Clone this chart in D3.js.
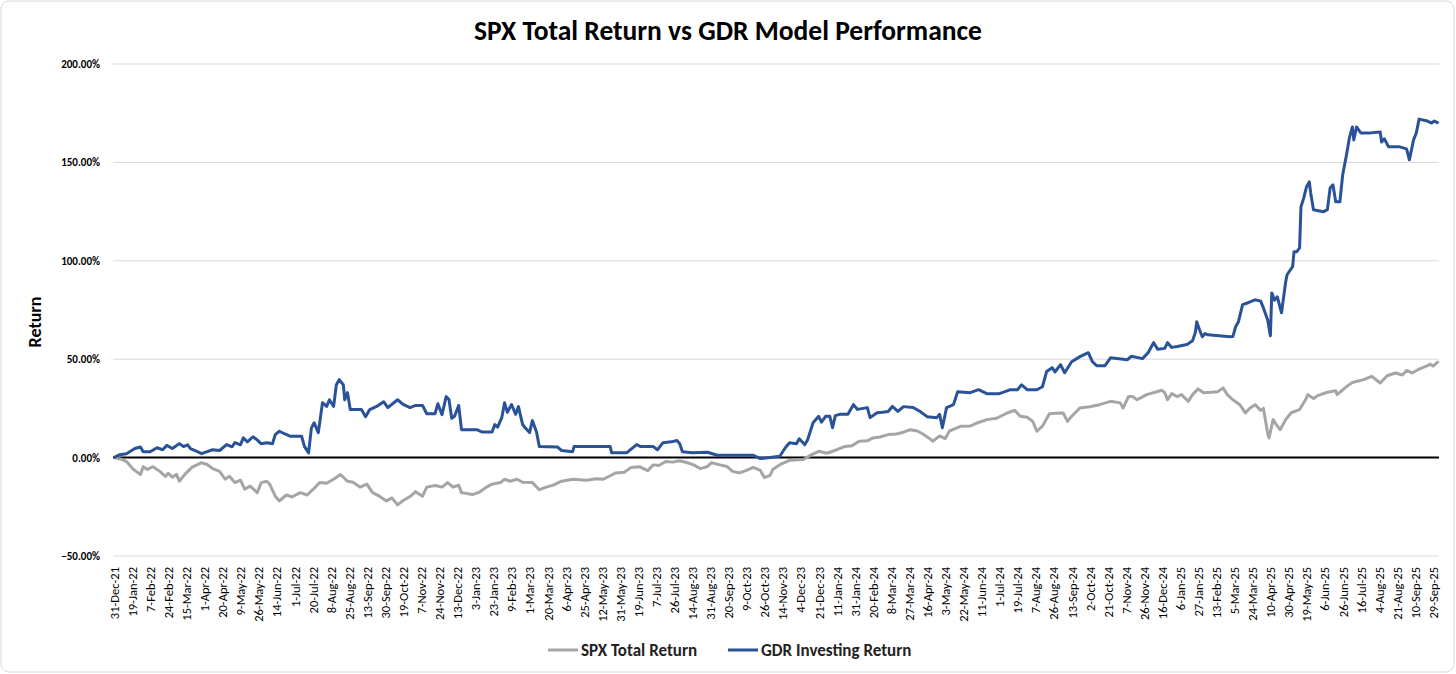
<!DOCTYPE html>
<html>
<head>
<meta charset="utf-8">
<script src="https://cdn.jsdelivr.net/npm/d3@7"></script>
<style>
  html, body { margin: 0; padding: 0; background: #fff; }
  svg { display: block; font-family: Carlito, Lato, "Open Sans", sans-serif; }
</style>
</head>
<body>
<svg id="chart" width="1456" height="674"></svg>
<script>
// tick labels, one every 13 trading days
const dateLabels = ["31-Dec-21","19-Jan-22","7-Feb-22","24-Feb-22","15-Mar-22","1-Apr-22","20-Apr-22","9-May-22","26-May-22","14-Jun-22","1-Jul-22","20-Jul-22","8-Aug-22","25-Aug-22","13-Sep-22","30-Sep-22","19-Oct-22","7-Nov-22","24-Nov-22","13-Dec-22","3-Jan-23","23-Jan-23","9-Feb-23","1-Mar-23","20-Mar-23","6-Apr-23","25-Apr-23","12-May-23","31-May-23","19-Jun-23","7-Jul-23","26-Jul-23","14-Aug-23","31-Aug-23","20-Sep-23","9-Oct-23","26-Oct-23","14-Nov-23","4-Dec-23","21-Dec-23","11-Jan-24","31-Jan-24","20-Feb-24","8-Mar-24","27-Mar-24","16-Apr-24","3-May-24","22-May-24","11-Jun-24","1-Jul-24","19-Jul-24","7-Aug-24","26-Aug-24","13-Sep-24","2-Oct-24","21-Oct-24","7-Nov-24","26-Nov-24","16-Dec-24","6-Jan-25","27-Jan-25","13-Feb-25","5-Mar-25","24-Mar-25","10-Apr-25","30-Apr-25","19-May-25","6-Jun-25","26-Jun-25","16-Jul-25","4-Aug-25","21-Aug-25","10-Sep-25","29-Sep-25"];
const labelStep = 13;

// [trading day index, return %]
const spxReturn = [
  [0,0],[6,-1],[9,-2],[14,-6],[19,-8.6],[21,-4.6],[24,-6],[28,-4.6],[33,-7],[37,-9.6],[39,-8],[42,-10],[45,-8.5],[47,-12],[51,-8.5],[56,-5],[59,-4],[63,-2.6],[67,-3.5],[71,-5.6],[76,-7],[80,-11],[83,-9.5],[87,-12.7],[91,-11.5],[94,-16],[98,-14.5],[103,-17.8],[106,-12.7],[110,-12],[112,-13.5],[116,-19.6],[119,-22],[124,-19],[128,-20],[134,-17.8],[139,-19],[143,-16.3],[148,-12.7],[153,-13],[158,-11],[163,-8.6],[168,-12],[172,-12.5],[177,-15],[182,-13.5],[186,-17.8],[191,-19.6],[196,-22],[200,-20.5],[204,-24],[208,-21.8],[213,-19.8],[217,-17.3],[222,-19.6],[225,-15],[231,-14.2],[236,-15],[240,-12.7],[244,-15],[248,-14],[250,-17.8],[258,-18.8],[263,-17.5],[268,-15],[272,-13.5],[278,-12.7],[281,-11],[285,-12],[290,-11],[294,-12.5],[301,-12.7],[306,-16.3],[311,-15],[316,-14],[322,-12],[330,-11],[335,-11.2],[340,-11.5],[347,-10.7],[352,-11],[356,-9.6],[361,-7.8],[367,-7.5],[372,-5],[378,-4.6],[384,-6.6],[388,-3.7],[392,-4],[397,-2],[402,-2.3],[407,-1.6],[412,-2.5],[417,-3.7],[422,-5.6],[427,-4.5],[430,-2.6],[436,-3.7],[441,-4.5],[445,-7],[450,-7.8],[455,-6.5],[460,-5],[465,-6.5],[468,-10.2],[472,-9],[474,-6],[479,-3.6],[486,-1.4],[496,-1],[502,1.5],[507,3.2],[513,2.2],[520,4],[526,5.7],[531,6],[536,8.3],[542,8.5],[546,10],[551,10.5],[557,11.7],[563,12],[568,12.9],[573,14.2],[578,13.5],[582,12],[587,9.6],[589,8.3],[594,11],[598,9.6],[601,13.4],[609,15.9],[616,16],[621,17.6],[628,19.3],[635,20],[643,22.8],[648,24],[652,21],[657,20.5],[661,18.4],[664,13.4],[668,16],[673,22.3],[678,22.5],[683,22.6],[686,18.4],[689,21],[695,25.2],[702,25.8],[709,26.9],[717,28.6],[724,27.8],[726,25.2],[730,31.1],[733,31],[736,29.4],[743,32],[749,33.2],[754,34.2],[756,33],[758,29.4],[761,32.5],[765,31],[768,32],[773,28.6],[776,32],[780,34.9],[784,33],[789,33.2],[794,33.5],[798,35.4],[801,32],[805,29.4],[810,26.9],[814,22.7],[817,25],[821,26.9],[825,24],[827,25],[830,12.5],[831,10],[834,19.3],[836,17],[839,14.2],[843,19.3],[847,22.8],[853,24.4],[857,29],[859,32],[863,30],[866,31.5],[873,33.2],[879,34],[880,32],[887,36.2],[891,38.2],[899,39.6],[905,41.3],[911,37.9],[916,41.6],[922,43],[927,42],[930,44.3],[934,43],[939,45],[945,46.7],[947,47.5],[949,46.5],[953,48.9]
];

const gdrReturn = [
  [0,0],[4,1.5],[9,2],[15,4.6],[19,5.4],[21,3],[26,3],[31,5],[35,4],[38,6.2],[42,4.6],[47,7.1],[50,5.6],[53,6.5],[55,4.6],[60,3],[63,2],[67,3],[71,4],[76,3.6],[81,6.6],[85,5.5],[87,7.6],[91,6.5],[93,10],[96,8],[100,10.6],[103,9],[106,7],[110,7.5],[114,7],[116,11.7],[119,13.4],[123,12],[127,10.8],[135,10.8],[137,5.7],[140,2.4],[142,15],[144,17.7],[147,12.7],[150,27.9],[153,26],[155,29.4],[158,26],[160,37],[162,39.6],[165,37],[166,29.4],[168,33],[170,24.4],[178,24.4],[181,20.8],[184,24.4],[189,26],[194,28.4],[197,25.4],[204,29.4],[208,27],[213,25.4],[217,26.5],[222,26.5],[225,22.3],[231,22.3],[233,27.4],[236,21.8],[239,31],[241,29.5],[243,20],[245,21],[248,26.5],[250,14.2],[261,14.2],[265,13],[272,13],[274,16.8],[276,15.5],[279,20.3],[281,27.9],[283,23],[286,27],[289,22],[291,25.9],[294,16.8],[296,15],[299,12.7],[301,18.8],[304,13],[306,5.6],[319,5.4],[322,3.6],[330,3],[331,5.6],[357,5.6],[358,2.5],[369,2.5],[376,6.6],[379,5.6],[388,5.6],[391,4],[395,7.6],[401,8],[405,8.7],[407,7],[409,3],[416,2.5],[427,2.7],[434,1.2],[460,1.2],[465,-0.5],[472,0],[479,0.7],[483,5],[486,7.5],[491,7],[493,9.6],[497,6.6],[499,9],[503,17.7],[507,21],[509,18],[512,21],[515,21],[517,15.2],[519,21.3],[522,22],[528,22],[532,26.9],[535,24.5],[542,25.4],[544,20.3],[549,22.8],[553,23],[557,23.4],[560,26],[564,23.5],[568,25.9],[575,25.5],[580,23.4],[585,20.8],[592,20.3],[594,22],[596,15.2],[599,25.4],[604,26.9],[607,33.5],[616,33],[622,34.5],[628,32.5],[637,32.5],[645,34.5],[650,34.5],[653,37],[657,34.5],[664,34.5],[668,36],[671,43.7],[675,45.7],[677,43.5],[681,47.2],[684,43.1],[689,48.7],[695,51.3],[701,53.3],[704,48.7],[707,46.7],[713,46.7],[717,50.7],[729,49.7],[732,51.5],[740,50.3],[744,53.3],[748,58.4],[751,55],[756,55.5],[758,58.4],[761,56],[765,56.5],[772,57.5],[776,59.4],[778,63.5],[779,69],[781,65],[783,61.4],[785,63],[787,62.4],[803,61.4],[805,61.5],[807,66.5],[809,69],[812,77.7],[816,78.7],[821,80.2],[825,79.5],[827,76],[830,70],[832,61.9],[833,83.7],[835,80],[837,81.7],[840,73.6],[843,89.3],[844,92.9],[848,97],[849,104.6],[851,104.6],[853,106.6],[854,127.4],[856,132],[858,137.6],[860,140.1],[861,134.5],[863,125.9],[870,124.9],[873,126],[875,137],[877,138.6],[879,130],[882,130],[884,143.6],[887,154.8],[889,163],[891,168],[892,161.4],[894,168],[897,165],[904,165],[911,165.5],[912,160.4],[914,162],[917,157.9],[925,157.9],[930,156.9],[932,151.3],[935,161.4],[937,165],[939,172],[945,171],[948,170],[950,171],[953,170]
];

const yTicks = [-0.5, 0, 0.5, 1, 1.5, 2];
const seriesNames = ["SPX Total Return", "GDR Investing Return"];
const seriesColors = ["#a5a5a5", "#2a5298"];

const width = 1456, height = 674;
const svg = d3.select("#chart");

// outer frame
svg.append("rect")
  .attr("x", 1).attr("y", 1)
  .attr("width", width - 3).attr("height", height - 3)
  .attr("rx", 8)
  .attr("fill", "#fff").attr("stroke", "#d9d9d9");

const x = d3.scaleLinear()
  .domain([0, (dateLabels.length - 1) * labelStep])
  .range([114, 1433]);

const y = d3.scaleLinear()
  .domain([-0.5, 2])
  .range([556, 64]);

// gridlines
svg.append("g")
  .selectAll("line")
  .data(yTicks)
  .enter()
  .append("line")
  .attr("x1", 113).attr("x2", 1439)
  .attr("y1", d => y(d)).attr("y2", d => y(d))
  .attr("stroke", d => d === 0 ? "#000" : "#d9d9d9")
  .attr("stroke-width", d => d === 0 ? 2 : 1);

const yAxis = d3.axisLeft(y)
  .tickValues(yTicks)
  .tickFormat(d3.format(".2%"))
  .tickSize(0)
  .tickPadding(13);

svg.append("g")
  .attr("transform", "translate(113,0)")
  .call(yAxis)
  .call(g => g.select(".domain").remove())
  .selectAll("text")
  .attr("font-family", "Carlito, Lato, sans-serif")
  .attr("font-size", 11)
  .attr("font-weight", "bold")
  .attr("fill", "#000");

const xAxis = d3.axisBottom(x)
  .tickValues(dateLabels.map((d, i) => i * labelStep))
  .tickFormat((d, i) => dateLabels[i])
  .tickSize(0);

svg.append("g")
  .attr("transform", "translate(0,562)")
  .call(xAxis)
  .call(g => g.select(".domain").remove())
  .selectAll("text")
  .attr("font-family", "Carlito, Lato, sans-serif")
  .attr("font-size", 12.5)
  .attr("font-weight", 500)
  .attr("fill", "#000")
  .attr("text-anchor", "end")
  .attr("transform", "rotate(-90)")
  .attr("x", -5)
  .attr("y", 0)
  .attr("dy", "0.35em");

const line = d3.line()
  .x(d => x(d[0]))
  .y(d => y(d[1] / 100));

svg.append("path")
  .datum(spxReturn)
  .attr("d", line)
  .attr("fill", "none")
  .attr("stroke", seriesColors[0])
  .attr("stroke-width", 3)
  .attr("stroke-linejoin", "round");

svg.append("path")
  .datum(gdrReturn)
  .attr("d", line)
  .attr("fill", "none")
  .attr("stroke", seriesColors[1])
  .attr("stroke-width", 3)
  .attr("stroke-linejoin", "round");

// title
svg.append("text")
  .attr("x", 728).attr("y", 40)
  .attr("text-anchor", "middle")
  .attr("font-size", 27.5)
  .attr("font-weight", "bold")
  .attr("fill", "#000")
  .text("SPX Total Return vs GDR Model Performance");

// y axis title
svg.append("text")
  .attr("transform", "translate(41,322) rotate(-90)")
  .attr("text-anchor", "middle")
  .attr("font-size", 18)
  .attr("font-weight", "bold")
  .attr("fill", "#000")
  .text("Return");

// legend
const legendX = [548, 728];
const legend = svg.append("g");
seriesNames.forEach((name, i) => {
  legend.append("line")
    .attr("x1", legendX[i]).attr("x2", legendX[i] + 30)
    .attr("y1", 650).attr("y2", 650)
    .attr("stroke", seriesColors[i])
    .attr("stroke-width", 3);
  legend.append("text")
    .attr("x", legendX[i] + 33).attr("y", 656)
    .attr("font-size", 17)
    .attr("font-weight", 600)
    .attr("fill", "#222")
    .text(name);
});
</script>
</body>
</html>
